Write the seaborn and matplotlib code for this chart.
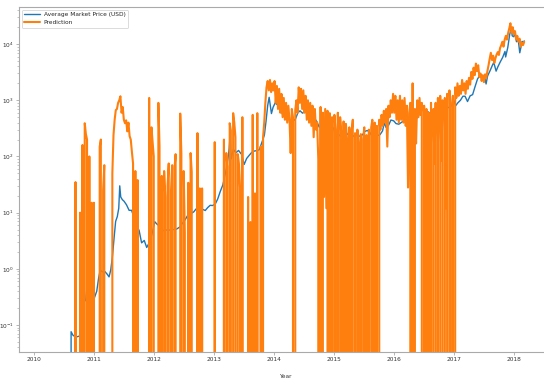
import matplotlib
matplotlib.use("Agg")
import matplotlib.pyplot as plt
import matplotlib.dates as mdates
import pandas as pd
import seaborn as sns

# ---- average market price (USD) ----
price_dates = [
    "2010-08-16", "2010-08-17", "2010-08-28", "2010-09-10", "2010-09-25", "2010-10-08",
    "2010-10-15", "2010-10-25", "2010-11-01", "2010-11-06", "2010-11-12", "2010-11-25",
    "2010-12-05", "2010-12-20", "2011-01-05", "2011-01-20", "2011-02-01", "2011-02-10",
    "2011-02-25", "2011-03-10", "2011-03-25", "2011-04-05", "2011-04-15", "2011-04-25",
    "2011-05-05", "2011-05-15", "2011-05-25", "2011-06-03", "2011-06-09", "2011-06-15",
    "2011-06-25", "2011-07-05", "2011-07-20", "2011-08-05", "2011-08-20", "2011-09-05",
    "2011-09-20", "2011-10-05", "2011-10-20", "2011-11-05", "2011-11-20", "2011-12-05",
    "2011-12-20", "2012-01-08", "2012-01-20", "2012-02-05", "2012-02-20", "2012-03-05",
    "2012-03-20", "2012-04-10", "2012-05-01", "2012-05-20", "2012-06-10", "2012-06-25",
    "2012-07-10", "2012-07-25", "2012-08-10", "2012-08-16", "2012-08-20", "2012-09-01",
    "2012-09-15", "2012-10-01", "2012-10-20", "2012-11-10", "2012-11-25", "2012-12-10",
    "2012-12-25", "2013-01-10", "2013-01-25", "2013-02-10", "2013-02-25", "2013-03-10",
    "2013-03-25", "2013-04-05", "2013-04-10", "2013-04-17", "2013-04-30", "2013-05-15",
    "2013-06-01", "2013-06-20", "2013-07-05", "2013-07-20", "2013-08-05", "2013-08-20",
    "2013-09-05", "2013-09-20", "2013-10-05", "2013-10-20", "2013-11-05", "2013-11-15",
    "2013-11-25", "2013-12-04", "2013-12-18", "2013-12-28", "2014-01-10", "2014-01-25",
    "2014-02-10", "2014-02-25", "2014-03-10", "2014-03-25", "2014-04-10", "2014-04-25",
    "2014-05-10", "2014-05-28", "2014-06-10", "2014-06-25", "2014-07-10", "2014-07-25",
    "2014-08-10", "2014-08-20", "2014-09-05", "2014-09-20", "2014-10-05", "2014-10-20",
    "2014-11-05", "2014-11-15", "2014-12-01", "2014-12-15", "2015-01-01", "2015-01-14",
    "2015-01-25", "2015-02-10", "2015-02-25", "2015-03-10", "2015-03-25", "2015-04-10",
    "2015-04-25", "2015-05-10", "2015-05-25", "2015-06-10", "2015-06-25", "2015-07-10",
    "2015-07-25", "2015-08-10", "2015-08-25", "2015-09-10", "2015-09-25", "2015-10-10",
    "2015-10-25", "2015-11-05", "2015-11-15", "2015-12-01", "2015-12-15", "2016-01-01",
    "2016-01-15", "2016-02-01", "2016-02-15", "2016-03-01", "2016-03-15", "2016-04-01",
    "2016-04-15", "2016-05-01", "2016-05-15", "2016-06-01", "2016-06-16", "2016-07-01",
    "2016-07-15", "2016-08-01", "2016-08-15", "2016-09-01", "2016-09-15", "2016-10-01",
    "2016-10-15", "2016-11-01", "2016-11-15", "2016-12-01", "2016-12-15", "2017-01-01",
    "2017-01-12", "2017-01-25", "2017-02-10", "2017-02-25", "2017-03-10", "2017-03-25",
    "2017-04-10", "2017-04-25", "2017-05-10", "2017-05-25", "2017-06-10", "2017-06-25",
    "2017-07-10", "2017-07-16", "2017-07-25", "2017-08-10", "2017-08-25", "2017-09-01",
    "2017-09-15", "2017-09-25", "2017-10-10", "2017-10-25", "2017-11-08", "2017-11-12",
    "2017-11-25", "2017-12-07", "2017-12-17", "2017-12-22", "2018-01-01", "2018-01-07",
    "2018-01-17", "2018-01-28", "2018-02-06", "2018-02-12", "2018-02-20", "2018-03-01",
    "2018-03-05",
]
price_usd = [
    0, 0.076, 0.066, 0.062, 0.062, 0.064,
    0.10, 0.17, 0.22, 0.40, 0.27, 0.28,
    0.21, 0.25, 0.30, 0.40, 0.70, 0.95,
    0.88, 0.90, 0.80, 0.72, 0.95, 1.6,
    3.4, 7.0, 8.5, 12, 30, 19,
    17, 16, 13.8, 11, 11, 8,
    6.0, 4.8, 2.9, 3.2, 2.4, 2.9,
    3.9, 6.9, 6.3, 5.8, 4.6, 4.9,
    4.9, 4.9, 5.0, 5.1, 5.6, 6.5,
    7.4, 8.8, 11.2, 13.2, 9.8, 10.3,
    11.6, 12.4, 11.7, 10.9, 12.3, 13.5,
    13.4, 14.2, 17.5, 24, 31, 46,
    75, 140, 230, 90, 135, 116,
    128, 108, 72, 92, 105, 118,
    125, 127, 132, 175, 240, 420,
    800, 1130, 580, 750, 900, 820,
    700, 550, 630, 580, 420, 470,
    440, 600, 650, 590, 630, 600,
    580, 500, 480, 420, 330, 380,
    340, 400, 380, 345, 315, 210,
    260, 230, 240, 290, 250, 235,
    225, 240, 237, 229, 243, 280,
    290, 265, 220, 240, 235, 245,
    285, 400, 330, 360, 445, 430,
    385, 375, 400, 430, 415, 417,
    427, 450, 455, 535, 750, 675,
    660, 610, 570, 575, 610, 610,
    640, 730, 710, 750, 780, 1000,
    800, 900, 1000, 1180, 1180, 950,
    1200, 1260, 1750, 2400, 2800, 2500,
    2400, 1950, 2700, 3400, 4300, 4700,
    3300, 3900, 4800, 5800, 7400, 5900,
    8700, 15000, 19200, 14000, 13500, 16500,
    11000, 11700, 7000, 8500, 11200, 10500,
    11400,
]

# ---- weekly model predictions (0 where the model output is not positive) ----
pred_2010 = [0, 0, 0, 0, 0, 0, 0, 0, 0, 0, 35, 0, 0, 0, 10, 0, 160, 0, 390, 250,
             200, 0, 100, 0, 15, 0]
pred_2011 = [15, 0, 0, 0, 0, 150, 200, 0, 25, 70, 0, 0, 0, 0, 0, 0, 50, 240, 450, 670,
             700, 900, 1000, 1180, 600, 760, 450, 390, 440, 280, 400, 230, 200, 120, 75, 0,
             55, 0, 38, 0, 0, 0, 0, 0, 0, 0, 0, 0, 1100, 0, 330, 180]
pred_2012 = [100, 0, 0, 0, 900, 150, 0, 45, 0, 55, 19, 0, 30, 75, 0, 25, 70, 0, 60, 110,
             0, 0, 0, 580, 110, 0, 55, 4.4, 0, 0, 34, 0, 115, 53, 0, 0, 0, 0, 260, 0,
             27, 0, 27, 0, 0, 0, 0, 0, 0, 0, 0, 0]
pred_2013 = [0, 180, 0, 0, 0, 0, 0, 0, 0, 200, 0, 115, 66, 0, 390, 290, 0, 590, 400, 220,
             0, 110, 75, 28, 0, 500, 0, 0, 0, 0, 19, 0, 6.8, 0, 550, 0, 22, 0, 590, 0,
             0, 150, 0, 220, 400, 900, 1700, 2200, 1500, 2300, 1400, 2000]
pred_2014 = [1500, 2200, 900, 1800, 700, 1600, 600, 1300, 500, 1100, 450, 900, 400, 800,
             440, 115, 700, 500, 0, 670, 1000, 600, 1700, 900, 1600, 700, 1500, 600, 1200,
             450, 1000, 400, 900, 350, 800, 220, 700, 300, 400, 90, 0, 760, 0, 600, 19,
             700, 12, 650, 0, 590, 0, 500]
pred_2015 = [0, 550, 300, 0, 600, 0, 500, 250, 0, 420, 0, 380, 200, 0, 330, 0, 280, 450,
             0, 260, 0, 300, 180, 0, 250, 0, 200, 330, 0, 240, 0, 300, 0, 330, 450, 0,
             400, 0, 350, 0, 450, 300, 550, 350, 650, 400, 700, 150, 800, 500, 1000, 600,
             1300]
pred_2016 = [600, 1200, 450, 1000, 400, 1200, 450, 1000, 400, 1100, 350, 800, 28, 600,
             900, 0, 2000, 0, 700, 170, 1000, 500, 1100, 550, 900, 0, 800, 0, 700, 0, 600,
             0, 900, 0, 700, 75, 900, 0, 1100, 0, 1200, 85, 1000, 0, 1100, 12, 1300, 0,
             1500, 900, 0, 1200]
pred_2017 = [0, 1700, 1100, 2000, 1200, 1800, 1300, 2300, 1500, 2000, 1300, 2200, 1600,
             2500, 1900, 3200, 2400, 3800, 2800, 4500, 3300, 4200, 2600, 3000, 2200, 2800,
             2100, 2900, 2500, 3300, 4200, 5500, 7000, 5200, 6200, 4600, 5600, 6500, 7200,
             6400, 8500, 9500, 11000, 9000, 12000, 14000, 12000, 15600, 19000, 23500,
             16000, 20000]
pred_2018 = [15000, 17000, 12000, 14000, 11000, 12500, 9000, 10500, 9600, 11000]

pred_blocks = [
    ("2010-07-05", pred_2010), ("2011-01-03", pred_2011), ("2012-01-02", pred_2012),
    ("2012-12-31", pred_2013), ("2013-12-30", pred_2014), ("2014-12-29", pred_2015),
    ("2016-01-04", pred_2016), ("2017-01-02", pred_2017), ("2018-01-01", pred_2018),
]

price_df = pd.DataFrame({"date": pd.to_datetime(price_dates), "value": price_usd})
pred_df = pd.concat(
    [pd.DataFrame({"date": pd.date_range(start, periods=len(vals), freq="7D"), "value": vals})
     for start, vals in pred_blocks],
    ignore_index=True,
)

sns.set_style("ticks")
plt.rcParams["font.family"] = ["DejaVu Sans"]
# keep every weekly drop as its own stroke
plt.rcParams["path.simplify"] = False

fig = plt.figure(figsize=(5.44, 3.83), dpi=100)
ax = fig.add_axes([19 / 544, 31 / 383, 532 / 544, 345 / 383])

sns.lineplot(data=price_df, x="date", y="value", ax=ax, color="#1f77b4",
             linewidth=1.0, estimator=None, label="Average Market Price (USD)")
sns.lineplot(data=pred_df, x="date", y="value", ax=ax, color="#ff7f0e",
             linewidth=1.5, estimator=None, label="Prediction")

ax.set_yscale("log")
ax.set_ylim(10 ** -1.48, 10 ** 4.66)
ax.set_xlim(pd.Timestamp("2009-10-04"), pd.Timestamp("2018-08-15"))
ax.xaxis.set_major_locator(mdates.YearLocator())
ax.xaxis.set_major_formatter(mdates.DateFormatter("%Y"))

ax.set_xlabel("Year", fontsize=4.2, color="#333333", labelpad=9)
ax.set_ylabel("")

ax.tick_params(axis="both", which="major", labelsize=4.2, length=2, width=0.5,
               color="#999999", labelcolor="#333333", pad=1.5)
ax.tick_params(axis="y", which="minor", length=1.2, width=0.4, color="#999999")
for spine in ax.spines.values():
    spine.set_color("#aaaaaa")
    spine.set_linewidth(0.8)

leg = ax.legend(loc="upper left", fontsize=4.2, handlelength=2.7, handletextpad=0.6,
                frameon=True, fancybox=True, framealpha=0.8, borderaxespad=0.5)
leg.get_frame().set_edgecolor("#cccccc")
leg.get_frame().set_linewidth(0.6)

fig.savefig("out.png", dpi=100)
